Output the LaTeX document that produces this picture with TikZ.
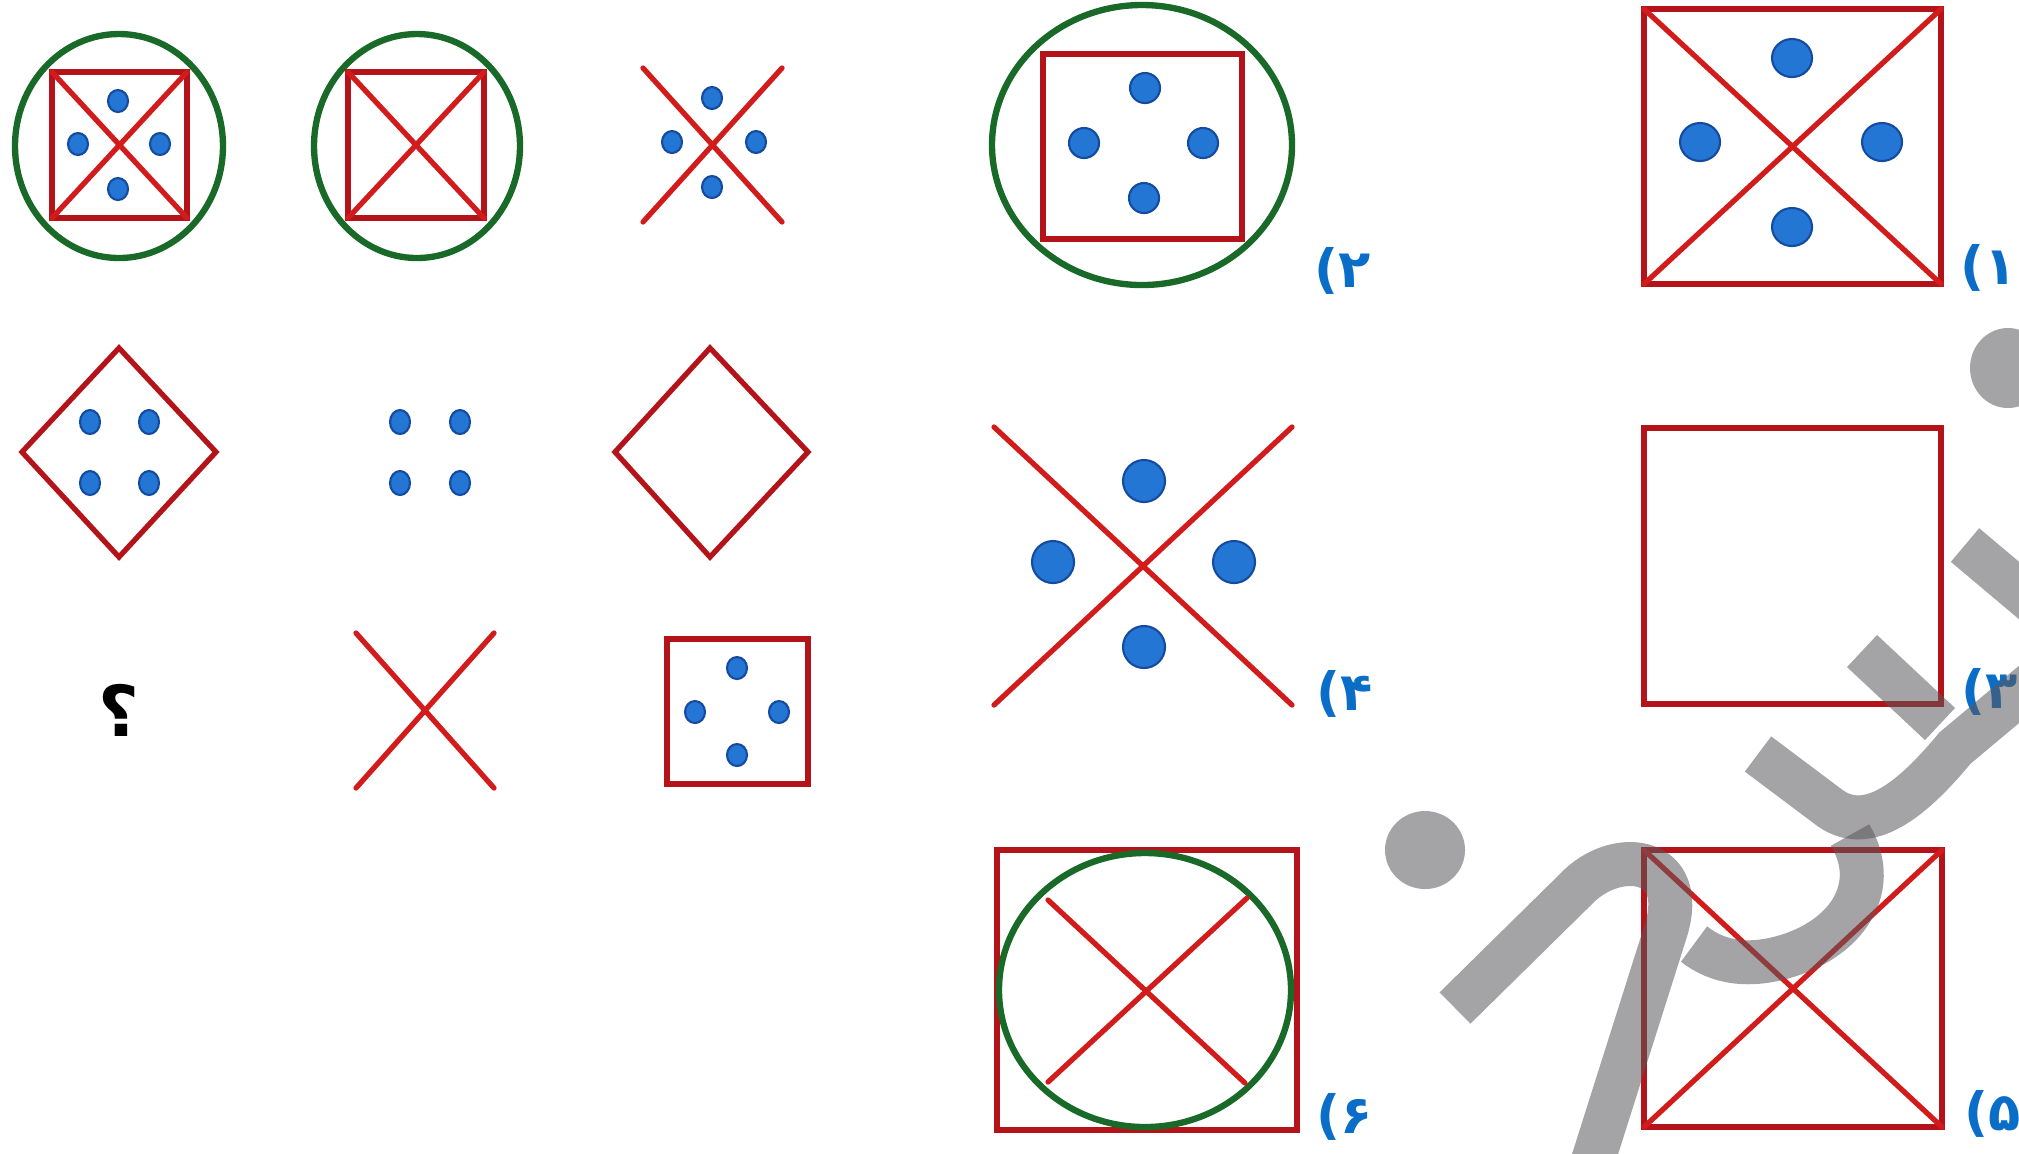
\documentclass[tikz,border=0pt]{standalone}
\usepackage{fontspec}
\newfontfamily\fa[Script=Arabic]{DejaVu Sans}
\definecolor{boxred}{RGB}{180,20,25}
\definecolor{xred}{RGB}{210,28,28}
\definecolor{ringgreen}{RGB}{25,105,40}
\definecolor{dotblue}{RGB}{35,118,212}
\definecolor{dotedge}{RGB}{20,75,160}
\definecolor{lblblue}{RGB}{10,110,200}
\definecolor{wmgray}{RGB}{90,88,92}
\tikzset{
  redbox/.style={draw=boxred, line width=1.5pt},
  crossln/.style={draw=xred, line width=1.5pt, line cap=round},
  greenring/.style={draw=ringgreen, line width=1.8pt},
  bluedot/.style={fill=dotblue, draw=dotedge, line width=0.6pt},
  lbl/.style={text=lblblue, font=\fa\bfseries\fontsize{15}{15}\selectfont, inner sep=0pt},
  qmark/.style={text=black, font=\fa\bfseries\fontsize{20}{20}\selectfont, inner sep=0pt},
  wm/.style={draw=wmgray, draw opacity=0.55, line width=12.5pt},
  wmfill/.style={fill=wmgray, fill opacity=0.55}
}
\newcommand\bdot[3]{\filldraw[bluedot] (#1) ellipse [x radius=#2, y radius=#3];}
\begin{document}
\begin{tikzpicture}[x=0.01cm,y=-0.01cm]
\useasboundingbox (0,0) rectangle (2019,1153);
\fill[white] (0,0) rectangle (2019,1153);

% ---- row 1, left group ----
\draw[greenring] (119,146) ellipse [x radius=104, y radius=112];
\draw[redbox] (52,72) rectangle (187,218);
\draw[crossln] (52,72) -- (187,218) (187,72) -- (52,218);
\bdot{118,101}{10}{11}\bdot{78,144}{10}{11}\bdot{160,144}{10}{11}\bdot{118,189}{10}{11}

\draw[greenring] (417,146) ellipse [x radius=103, y radius=112];
\draw[redbox] (348,72) rectangle (484,218);
\draw[crossln] (348,72) -- (484,218) (484,72) -- (348,218);

\draw[crossln] (643,68) -- (782,222) (782,68) -- (643,222);
\bdot{712,98}{10}{11}\bdot{672,142}{10}{11}\bdot{756,142}{10}{11}\bdot{712,187}{10}{11}

% ---- row 2, left group ----
\draw[redbox, line join=miter] (119,348) -- (216,452) -- (119,557) -- (22,452) -- cycle;
\bdot{90,422}{10}{12}\bdot{149,422}{10}{12}\bdot{90,483}{10}{12}\bdot{149,483}{10}{12}
\bdot{400,422}{10}{12}\bdot{460,422}{10}{12}\bdot{400,483}{10}{12}\bdot{460,483}{10}{12}
\draw[redbox, line join=miter] (710,348) -- (808,452) -- (710,557) -- (615,452) -- cycle;

% ---- row 3, left group ----
\node[qmark] (q) at (119,710) {؟};
\draw[crossln] (356,633) -- (494,788) (494,633) -- (356,788);
\draw[redbox] (667,639) rectangle (808,784);
\bdot{737,668}{10}{11}\bdot{695,712}{10}{11}\bdot{779,712}{10}{11}\bdot{737,755}{10}{11}

% ---- option 2 ----
\draw[greenring] (1142,145) ellipse [x radius=150, y radius=140];
\draw[redbox] (1043,54) rectangle (1242,239);
\bdot{1145,88}{15}{15}\bdot{1084,143}{15}{15}\bdot{1203,143}{15}{15}\bdot{1144,198}{15}{15}
\node[lbl] (l2) at (1343,271) {۲)};

% ---- option 1 ----
\draw[redbox] (1644,9) rectangle (1941,284);
\draw[crossln] (1644,9) -- (1941,284) (1941,9) -- (1644,284);
\bdot{1792,58}{20}{19}\bdot{1700,142}{20}{19}\bdot{1882,142}{20}{19}\bdot{1792,227}{20}{19}
\node[lbl] (l1) at (1989,268) {۱)};

% ---- option 4 ----
\draw[crossln] (994,427) -- (1292,705) (1292,427) -- (994,705);
\bdot{1144,481}{21}{21}\bdot{1053,562}{21}{21}\bdot{1234,562}{21}{21}\bdot{1144,647}{21}{21}
\node[lbl] (l4) at (1345,694) {۴)};

% ---- option 3 ----
\draw[redbox] (1644,428) rectangle (1941,704);
\node[lbl] (l3) at (1990,692) {۳)};

% ---- option 6 ----
\draw[redbox] (997,850) rectangle (1297,1130);
\draw[greenring] (1145,990) ellipse [x radius=146, y radius=137];
\draw[crossln] (1048,900) -- (1245,1083) (1247,898) -- (1048,1082);
\node[lbl] (l6) at (1345,1117) {۶)};

% ---- option 5 ----
\draw[redbox] (1644,850) rectangle (1942,1127);
\draw[crossln] (1644,850) -- (1942,1127) (1942,850) -- (1644,1127);
\node[lbl] (l5) at (1993,1114) {۵)};

% ---- watermark ----
\begin{scope}
\clip (0,0) rectangle (2019,1153);
\fill[wmfill] (2008,368) ellipse [x radius=38, y radius=40];
\fill[wmfill] (1425,850) ellipse [x radius=40, y radius=39];
\draw[wm] (1965,545) -- (2060,625);
\draw[wm] (1862,651) -- (1940,724);
\draw[wm] (1758,754) -- (1830,808) .. controls (1872,838) and (1920,790) .. (1955,748) -- (2060,660);
\draw[wm] (1850,835) .. controls (1880,885) and (1850,935) .. (1790,955) .. controls (1750,968) and (1718,963) .. (1694,944);
\draw[wm] (1455,1008) -- (1580,885) .. controls (1620,848) and (1688,858) .. (1666,930) -- (1590,1170);
\end{scope}
\end{tikzpicture}
\end{document}
